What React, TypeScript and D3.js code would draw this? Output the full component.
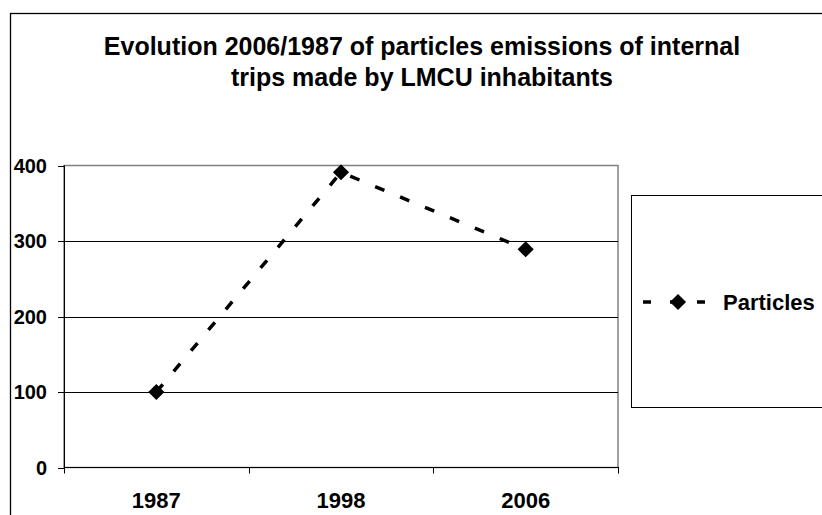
import React from 'react';
import * as d3 from 'd3';

const years = ['1987', '1998', '2006'];
const particles = [100, 391, 289];
const yTicks = [0, 100, 200, 300, 400];
const titleLines = [
    'Evolution 2006/1987 of particles emissions of internal',
    'trips made by LMCU inhabitants',
];
const seriesName = 'Particles';

const FONT = '"Liberation Sans", Arial, sans-serif';

const App = () => {
    const width = 822;
    const height = 515;
    const plot = { left: 64, right: 618, top: 165.5, bottom: 467.5 };

    const x = d3.scaleBand()
        .domain(years)
        .range([plot.left, plot.right])
        .padding(0);

    const y = d3.scaleLinear()
        .domain([0, 400])
        .range([plot.bottom, plot.top]);

    const cx = (d) => x(d) + x.bandwidth() / 2;

    const line = d3.line()
        .x((d, i) => cx(years[i]))
        .y((d) => y(d));

    const diamond = d3.symbol().type(d3.symbolSquare).size(130)();

    // band boundaries for the category ticks
    const xBounds = years.map((d) => x(d)).concat([plot.right]);

    const legend = { x: 631.5, y: 195.5, w: 260, h: 212 };
    const legendY = 302;

    return (
        <svg width={width} height={height}
            style={{ position: 'absolute', left: 0, top: 0, background: '#fff' }}
            fontFamily={FONT} fontWeight="bold">
            <rect x={10.5} y={13.5} width={850} height={530} fill="#fff" stroke="#000" strokeWidth={1.3} />

            {titleLines.map((t, i) => (
                <text key={i} x={422} y={54.5 + i * 31} textAnchor="middle" fontSize={25} fill="#000">{t}</text>
            ))}

            {/* plot area */}
            <rect x={plot.left} y={plot.top} width={plot.right - plot.left} height={plot.bottom - plot.top}
                fill="#fff" stroke="#808080" strokeWidth={1.5} />

            {yTicks.filter((v) => v > 0 && v < 400).map((v) => (
                <line key={v} x1={plot.left} x2={plot.right} y1={Math.round(y(v)) + 0.5} y2={Math.round(y(v)) + 0.5}
                    stroke="#000" strokeWidth={1} />
            ))}

            {/* y axis */}
            <line x1={plot.left + 0.5} x2={plot.left + 0.5} y1={plot.top} y2={plot.bottom} stroke="#000" />
            {yTicks.map((v) => (
                <g key={v}>
                    <line x1={plot.left - 6} x2={plot.left} y1={Math.round(y(v)) + 0.5} y2={Math.round(y(v)) + 0.5} stroke="#000" />
                    <text x={47} y={y(v) + 7} textAnchor="end" fontSize={20} fill="#000">{v}</text>
                </g>
            ))}

            {/* x axis */}
            <line x1={plot.left} x2={plot.right + 1} y1={plot.bottom} y2={plot.bottom} stroke="#000" />
            {xBounds.map((b, i) => (
                <line key={i} x1={Math.round(b) + 0.5} x2={Math.round(b) + 0.5} y1={plot.bottom} y2={plot.bottom + 6} stroke="#000" />
            ))}
            {years.map((d) => (
                <text key={d} x={cx(d)} y={508} textAnchor="middle" fontSize={22} fill="#000">{d}</text>
            ))}

            {/* series */}
            <path d={line(particles)} fill="none" stroke="#000" strokeWidth={3.5} strokeDasharray="10,17" />
            {particles.map((v, i) => (
                <path key={i} d={diamond} transform={`translate(${cx(years[i])},${y(v)}) rotate(45)`} fill="#000" />
            ))}

            {/* legend */}
            <rect x={legend.x} y={legend.y} width={legend.w} height={legend.h} fill="#fff" stroke="#000" strokeWidth={1} />
            <line x1={643} x2={705} y1={legendY} y2={legendY} stroke="#000" strokeWidth={3.5} strokeDasharray="8,19" />
            <path d={diamond} transform={`translate(678,${legendY}) rotate(45)`} fill="#000" />
            <text x={723} y={legendY + 7.5} fontSize={22} fill="#000">{seriesName}</text>
        </svg>
    );
};

export default App;
